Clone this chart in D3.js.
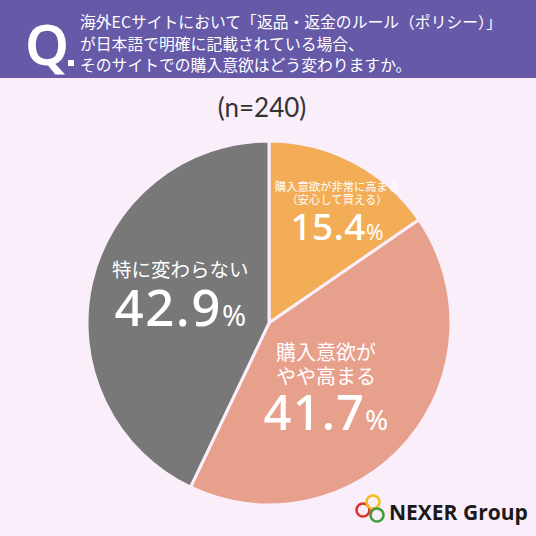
<!DOCTYPE html>
<html>
<head>
<meta charset="utf-8">
<script src="https://cdn.jsdelivr.net/npm/d3@7"></script>
<style>
  body { margin: 0; background: #fbeefb; }
  svg { display: block; }
  text { font-family: "Noto Sans CJK JP", "Noto Sans", sans-serif; }
</style>
</head>
<body>
<div id="chart"></div>
<script>
var svgWidth = 536;
var svgHeight = 536;

// data
var categories = ["購入意欲が非常に高まる", "購入意欲がやや高まる", "特に変わらない"];
var values = [15.4, 41.7, 42.9];
var labelLines = [
  ["購入意欲が非常に高まる", "（安心して買える）"],
  ["購入意欲が", "やや高まる"],
  ["特に変わらない"]
];
var sliceColors = ["#f3ad57", "#e7a08b", "#787878"];
var questionLines = [
  "海外ECサイトにおいて「返品・返金のルール（ポリシー）」",
  "が日本語で明確に記載されている場合、",
  "そのサイトでの購入意欲はどう変わりますか。"
];
var sampleText = "(n=240)";

var svg = d3.select("#chart")
  .append("svg")
  .attr("width", svgWidth)
  .attr("height", svgHeight);

svg.append("rect")
  .attr("width", svgWidth)
  .attr("height", svgHeight)
  .attr("fill", "#fbeefb");

// header band
svg.append("rect")
  .attr("width", svgWidth)
  .attr("height", 78)
  .attr("fill", "#6659a8");

svg.append("text")
  .attr("x", 25)
  .attr("y", 65)
  .attr("fill", "#fff")
  .style("font-family", "'Noto Sans', sans-serif")
  .style("font-size", "56px")
  .style("font-weight", "600")
  .text("Q");

svg.append("rect")
  .attr("x", 68)
  .attr("y", 60)
  .attr("width", 6)
  .attr("height", 6)
  .attr("fill", "#fff");

svg.selectAll(".qline")
  .data(questionLines)
  .enter()
  .append("text")
  .classed("qline", true)
  .attr("x", 80)
  .attr("y", (d, i) => 28 + i * 21.5)
  .attr("fill", "#fff")
  .style("font-size", "15.8px")
  .text(d => d);

svg.append("text")
  .attr("x", 262)
  .attr("y", 117)
  .attr("text-anchor", "middle")
  .attr("fill", "#333")
  .style("font-family", "Lato, sans-serif")
  .style("font-size", "26px")
  .text(sampleText);

// pie
var cx = 269, cy = 323, radius = 182;
var pieGroup = svg.append("g")
  .attr("transform", `translate(${cx}, ${cy})`);

var pie = d3.pie().sort(null).value(d => d);
var arcs = pie(values);
var arc = d3.arc().innerRadius(0).outerRadius(radius);

pieGroup.selectAll("path")
  .data(arcs)
  .enter()
  .append("path")
  .attr("d", arc)
  .attr("fill", (d, i) => sliceColors[i])
  .attr("stroke", "#fbeefb")
  .attr("stroke-width", 3);

// label layout per slice: radius along mid angle, x nudge, first baseline,
// line step, gap down to number baseline, sizes
var labelLayout = [
  { r: 129, dx: 8, y0: -18, step: 13, numGap: 36, fs: 11.3, numFs: 37, ls: 0.5 },
  { r: 88, dx: -10, y0: -20, step: 24, numGap: 46, fs: 20, numFs: 49, ls: 1 },
  { r: 92, dx: 1, y0: -26, step: 0, numGap: 49, fs: 19.5, numFs: 51, ls: 1.5 }
];

arcs.forEach(function(d, i) {
  var L = labelLayout[i];
  var a = (d.startAngle + d.endAngle) / 2;
  var lx = Math.sin(a) * L.r + L.dx;
  var ly = -Math.cos(a) * L.r;

  // one text element per label, lines as tspans
  var label = pieGroup.append("text")
    .attr("transform", `translate(${lx}, ${ly})`)
    .attr("y", L.y0)
    .attr("text-anchor", "middle")
    .attr("fill", "#fff");

  labelLines[i].forEach(function(line, j) {
    label.append("tspan")
      .attr("x", 0)
      .attr("dy", j === 0 ? 0 : L.step)
      .style("font-size", L.fs + "px")
      .text(line);
  });

  label.append("tspan")
    .attr("x", 0)
    .attr("dy", L.numGap)
    .style("font-family", "'Noto Sans', sans-serif")
    .style("font-size", L.numFs + "px")
    .style("font-weight", "500")
    .style("letter-spacing", L.ls + "px")
    .text(values[i].toFixed(1));
  label.append("tspan")
    .style("font-family", "'Noto Sans', sans-serif")
    .style("font-size", (L.numFs * 0.57) + "px")
    .style("font-weight", "400")
    .text("%");
});

// logo
var logo = svg.append("g");
var rings = [
  { x: 363, y: 510, c: "#d9342b" },
  { x: 373, y: 502, c: "#f1be1e" },
  { x: 377, y: 515, c: "#3f9e3a" }
];
logo.selectAll("circle")
  .data(rings)
  .enter()
  .append("circle")
  .attr("cx", d => d.x)
  .attr("cy", d => d.y)
  .attr("r", 6.5)
  .attr("fill", "none")
  .attr("stroke", d => d.c)
  .attr("stroke-width", 2.6);

logo.append("text")
  .attr("x", 389)
  .attr("y", 520)
  .attr("fill", "#1a1a1a")
  .style("font-family", "'Open Sans', sans-serif")
  .style("font-size", "21px")
  .style("font-weight", "700")
  .text("NEXER Group");
</script>
</body>
</html>
